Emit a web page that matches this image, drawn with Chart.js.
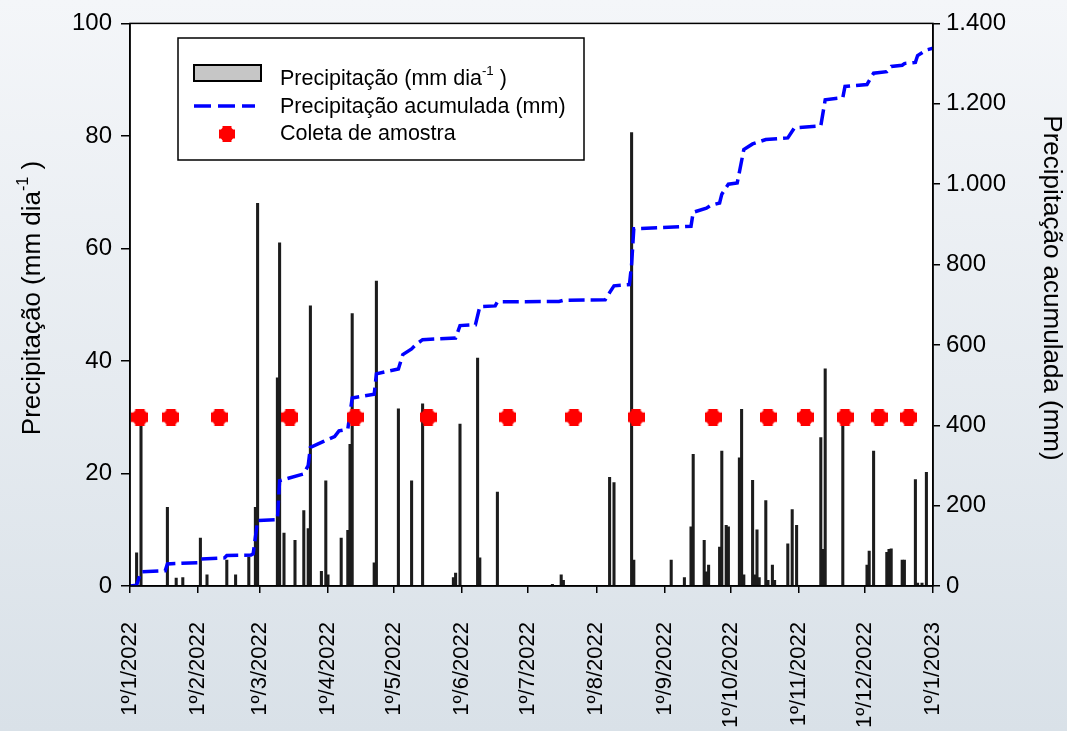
<!DOCTYPE html>
<html><head><meta charset="utf-8">
<script src="https://cdn.jsdelivr.net/npm/chart.js@4.4.1/dist/chart.umd.min.js"></script>
<style>html,body{margin:0;padding:0;background:#fff;}canvas{display:block;}</style>
</head><body>
<canvas id="c" width="1067" height="731"></canvas>
<script>
// ---- DATA ----
const monthStarts = [0,31,59,90,120,151,181,212,243,273,304,334,365];
const monthLabels = ['1º/1/2022','1º/2/2022','1º/3/2022','1º/4/2022','1º/5/2022','1º/6/2022','1º/7/2022','1º/8/2022','1º/9/2022','1º/10/2022','1º/11/2022','1º/12/2022','1º/1/2023'];

// daily precipitation (day of year, 0 = 1 Jan 2022) and values (mm/day)
const rainDays   = [3,5,17,21,24,32,35,44,48,54,57,58,67,68,70,75,79,81,82,87,89,90,96,99,100,101,111,112,122,128,133,147,148,150,158,159,167,192,196,197,218,220,228,229,246,252,255,256,261,262,263,268,269,271,272,277,278,279,283,284,285,286,289,290,292,293,299,301,303,314,315,316,324,335,336,338,344,345,346,351,352,357,358,360,362];
const rainValues = [5.9,29,14,1.4,1.5,8.5,2,4.6,2,5.2,14,68,37,61,9.4,8.1,13.4,10.2,49.8,2.6,18.7,2,8.5,9.9,25.2,48.4,4.1,54.2,31.5,18.7,32.4,1.5,2.3,28.8,40.5,5,16.7,0.3,2,1,19.3,18.4,80.6,4.6,4.6,1.5,10.5,23.4,8.1,2.5,3.7,6.9,24,10.8,10.5,22.8,31.4,2,18.8,2,10,1.5,15.2,1,3.7,1,7.5,13.6,10.8,26.4,6.5,38.6,29.3,3.7,6.2,24,6,6.5,6.6,4.6,4.6,18.9,0.5,0.5,20.2];

// accumulated precipitation (mm)
const cumDays   = [0,3,5,16,17,31,32,43,44,55,56,58,67,68,79,81,82,88,93,95,99,101,111,112,122,124,128,130,133,148,150,157,159,166,167,195,197,216,218,220,227,228,229,255,256,262,264,268,269,272,276,277,279,283,289,299,302,314,316,324,325,335,338,344,346,351,352,357,358,362,365];
const cumValues = [0,2,35,38,55,58,67,70,76,77,80,163,165,262,279,300,345,360,372,386,390,468,477,528,540,576,590,601,613,617,648,650,695,697,707,708,711,712,730,747,750,800,889,895,930,940,947,953,975,1000,1003,1030,1086,1100,1111,1115,1140,1145,1210,1215,1243,1248,1276,1280,1293,1296,1300,1303,1320,1334,1338];

// sample collection dates
const sampleDays   = [4.5,18.6,40.5,72.7,102.3,135.5,171.8,201.8,230,265,290,307,325,340.5,354];
const sampleValues = [30,30,30,30,30,30,30,30,30,30,30,30,30,30,30];

// ---- STYLE ----
const FONT = "'Liberation Sans', Arial, Helvetica, sans-serif";

function makePlus(s){
  const cv = document.createElement('canvas');
  cv.width = s; cv.height = s;
  const c = cv.getContext('2d');
  c.fillStyle = '#ff0000';
  const arm = s*0.56, off = (s-arm)/2;
  c.beginPath(); c.arc(s/2,s/2,s*0.47,0,Math.PI*2); c.fill();
  c.fillRect(off,0,arm,s);
  c.fillRect(0,off,s,arm);
  return cv;
}
const plusImg = makePlus(17);
const plusLegend = makePlus(16);

function fmtThousands(v){
  if (v >= 1000) return Math.floor(v/1000) + '.' + String(v % 1000).padStart(3,'0');
  return String(v);
}

function drawParts(ctx, parts, x, y, size){
  let w = 0;
  const widths = parts.map(p=>{
    ctx.font = (p[1] ? size*0.62 : size) + 'px ' + FONT;
    const m = ctx.measureText(p[0]).width; w += m; return m;
  });
  return {w, widths, draw(startX){
    let cx = startX;
    parts.forEach((p,i)=>{
      ctx.font = (p[1] ? size*0.62 : size) + 'px ' + FONT;
      ctx.fillText(p[0], cx, p[1] ? y - size*0.38 : y);
      cx += widths[i];
    });
  }};
}

const decor = {
  id: 'decor',
  beforeDraw(chart){
    const {ctx, chartArea:a} = chart;
    ctx.save();
    const g = ctx.createLinearGradient(0,0,0,chart.height);
    g.addColorStop(0,'#f4f6f9');
    g.addColorStop(1,'#d9e1e8');
    ctx.fillStyle = g;
    ctx.fillRect(0,0,chart.width,chart.height);
    ctx.fillStyle = '#ffffff';
    ctx.fillRect(a.left,a.top,a.right-a.left,a.bottom-a.top);
    ctx.restore();
  },
  afterDraw(chart){
    const {ctx, chartArea:a} = chart;
    ctx.save();
    ctx.strokeStyle = '#000'; ctx.lineWidth = 1.5;
    ctx.strokeRect(a.left, a.top, a.right-a.left, a.bottom-a.top);

    ctx.fillStyle = '#000';
    ctx.textBaseline = 'middle';
    ctx.textAlign = 'left';
    // left axis title
    ctx.save();
    ctx.translate(33, 298);
    ctx.rotate(-Math.PI/2);
    const lt = drawParts(ctx, [['Precipitação (mm dia',false],['-1',true],[' )',false]], 0, 0, 26);
    lt.draw(-lt.w/2);
    ctx.restore();
    // right axis title
    ctx.save();
    ctx.translate(1051, 288);
    ctx.rotate(Math.PI/2);
    ctx.font = '26px ' + FONT;
    ctx.textAlign = 'center';
    ctx.fillText('Precipitação acumulada (mm)', 0, 0);
    ctx.restore();

    // legend box
    ctx.fillStyle = '#ffffff';
    ctx.fillRect(178, 38, 406, 122);
    ctx.strokeStyle = '#000'; ctx.lineWidth = 1.5;
    ctx.strokeRect(178, 38, 406, 122);
    ctx.fillStyle = '#c6c6c6';
    ctx.fillRect(194, 65, 67, 16);
    ctx.lineWidth = 2; ctx.strokeStyle = '#000';
    ctx.strokeRect(194, 65, 67, 16);
    ctx.beginPath();
    ctx.setLineDash([17,7]);
    ctx.strokeStyle = '#0000ff'; ctx.lineWidth = 3.5;
    ctx.moveTo(194, 106); ctx.lineTo(255, 106); ctx.stroke();
    ctx.setLineDash([]);
    ctx.drawImage(plusLegend, 227-8, 134-8);
    ctx.fillStyle = '#000';
    ctx.textAlign = 'left';
    const t1 = drawParts(ctx, [['Precipitação (mm dia',false],['-1',true],[' )',false]], 0, 79, 21.5);
    t1.draw(280);
    ctx.font = '21.5px ' + FONT;
    ctx.fillText('Precipitação acumulada (mm)', 280, 107);
    ctx.fillText('Coleta de amostra', 280, 134);
    ctx.restore();
  }
};

new Chart(document.getElementById('c'), {
  type: 'bar',
  data: {
    datasets: [
      {
        type: 'line',
        label: 'Coleta de amostra',
        data: sampleDays.map((d,i)=>({x:d, y:sampleValues[i]})),
        showLine: false,
        pointStyle: plusImg,
        pointRadius: 9,
        yAxisID: 'y',
        order: 1
      },
      {
        type: 'line',
        label: 'Precipitação acumulada (mm)',
        data: cumDays.map((d,i)=>({x:d, y:cumValues[i]})),
        borderColor: '#0000ff',
        borderWidth: 3.5,
        borderDash: [16,6],
        pointRadius: 0,
        tension: 0,
        fill: false,
        yAxisID: 'y2',
        order: 2
      },
      {
        type: 'bar',
        label: 'Precipitação (mm dia-1)',
        data: rainDays.map((d,i)=>({x:d, y:rainValues[i]})),
        backgroundColor: '#1c1c1c',
        borderWidth: 0,
        barThickness: 2.4,
        yAxisID: 'y',
        order: 3
      }
    ]
  },
  options: {
    responsive: false,
    animation: false,
    devicePixelRatio: 1,
    layout: { padding: { top: 17, left: 0, right: 0, bottom: 0 } },
    plugins: { legend: { display: false }, tooltip: { enabled: false } },
    scales: {
      x: {
        type: 'linear',
        min: 0, max: 365,
        offset: false,
        afterBuildTicks: s => { s.ticks = monthStarts.map(v=>({value:v})); },
        afterFit: s => { s.height = 145; },
        ticks: {
          autoSkip: false,
          minRotation: 90, maxRotation: 90,
          padding: 29,
          color: '#000',
          font: { family: FONT, size: 22 },
          callback: (v, i) => monthLabels[i]
        },
        grid: { offset: false, drawOnChartArea: false, drawTicks: true, tickLength: 7, color: '#000', lineWidth: 1.5 },
        border: { display: true, color: '#000', width: 1.5 }
      },
      y: {
        position: 'left',
        min: 0, max: 100,
        afterFit: s => { s.width = 130; },
        ticks: { stepSize: 20, padding: 9, color: '#000', font: { family: FONT, size: 24 } },
        grid: { drawOnChartArea: false, drawTicks: true, tickLength: 9, color: '#000', lineWidth: 1.5 },
        border: { display: true, color: '#000', width: 1.5 }
      },
      y2: {
        position: 'right',
        min: 0, max: 1400,
        afterFit: s => { s.width = 134; },
        ticks: { stepSize: 200, padding: 6, color: '#000', font: { family: FONT, size: 24 }, callback: v => fmtThousands(v) },
        grid: { drawOnChartArea: false, drawTicks: true, tickLength: 7, color: '#000', lineWidth: 1.5 },
        border: { display: true, color: '#000', width: 1.5 }
      }
    }
  },
  plugins: [decor]
});
</script>
</body></html>
